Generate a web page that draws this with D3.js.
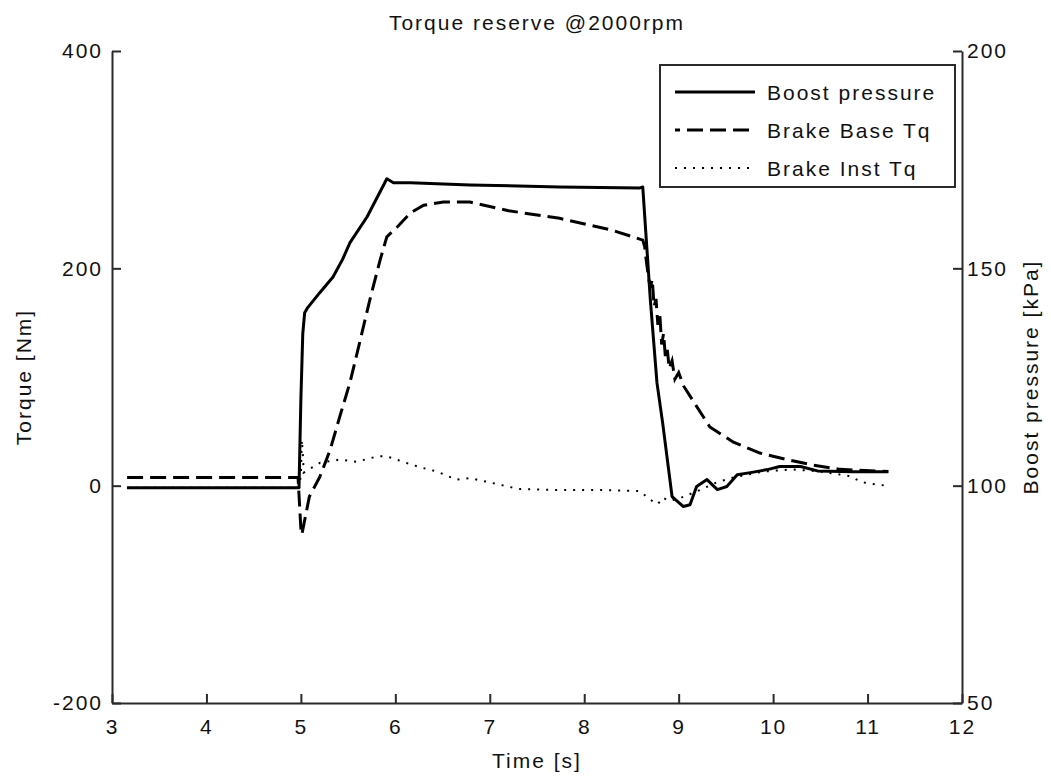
<!DOCTYPE html>
<html>
<head>
<meta charset="utf-8">
<script src="https://cdn.jsdelivr.net/npm/d3@7"></script>
<style>
  body { margin: 0; background: #fff; }
  svg { display: block; }
  text { font-family: "Liberation Sans", Arial, sans-serif; font-size: 21px; letter-spacing: 2px; fill: #111; }
</style>
</head>
<body>
<svg width="1051" height="776"></svg>
<script>
// Boost pressure [kPa] (right axis)
const boostTime = [3.16, 4.98, 5.00, 5.02, 5.04, 5.07, 5.20, 5.34, 5.44, 5.52, 5.70, 5.81, 5.91, 5.98, 6.16, 6.79, 7.74, 8.59, 8.62, 8.65, 8.70, 8.77, 8.83, 8.93, 9.05, 9.12, 9.19, 9.30, 9.41, 9.51, 9.62, 9.76, 9.94, 10.07, 10.29, 10.47, 10.85, 11.22];
const boostKpa = [99.5, 99.5, 120, 135, 139.8, 140.9, 144.4, 148.0, 152.0, 155.9, 161.8, 166.4, 170.6, 169.7, 169.7, 169.2, 168.7, 168.5, 168.7, 158.9, 142.8, 123.7, 114.5, 97.5, 95.2, 95.6, 99.8, 101.4, 99.1, 99.8, 102.5, 103.0, 103.7, 104.4, 104.4, 103.4, 103.2, 103.2];

// Brake Base Tq [Nm]
const baseTime = [3.16, 4.97, 5.00, 5.01, 5.09, 5.20, 5.31, 5.41, 5.52, 5.62, 5.73, 5.84, 5.91, 6.02, 6.16, 6.30, 6.51, 6.79, 7.20, 7.74, 8.30, 8.62, 8.64, 8.66, 8.68, 8.70, 8.72, 8.74, 8.76, 8.78, 8.80, 8.82, 8.84, 8.86, 8.88, 8.90, 8.93, 8.96, 9.00, 9.05, 9.19, 9.33, 9.58, 9.86, 10.15, 10.42, 10.71, 11.22];
const baseTq = [7.5, 7.5, -40, -45, -10, 8, 33, 63, 95, 131, 171, 208, 229, 238, 251, 258, 261, 261, 253, 246, 235, 226, 220, 205, 192, 182, 190, 165, 172, 148, 158, 130, 140, 118, 125, 108, 115, 98, 104, 92, 73, 54, 40, 30, 24, 19, 15, 13];

// Brake Inst Tq [Nm]
const instTime = [3.16, 4.98, 5.00, 5.01, 5.02, 5.03, 5.20, 5.41, 5.59, 5.81, 5.91, 6.08, 6.26, 6.44, 6.65, 6.79, 7.00, 7.30, 7.74, 8.20, 8.59, 8.70, 8.78, 8.83, 8.90, 9.00, 9.20, 9.40, 9.60, 9.90, 10.20, 10.50, 10.80, 10.95, 11.10, 11.20];
const instTq = [-2, -2, 10, 42, 30, 12, 21, 24, 22, 27, 27, 22, 17, 13, 5.5, 7, 3, -3, -4, -4, -5, -13, -17, -11, -14, -12, -5, 3, 8, 13, 15, 13, 9, 3, 1, 0];

const xTicks = [3, 4, 5, 6, 7, 8, 9, 10, 11, 12];
const yLeftTicks = [-200, 0, 200, 400];
const yRightTicks = [50, 100, 150, 200];
const legendNames = ["Boost pressure", "Brake Base Tq", "Brake Inst Tq"];

const svg = d3.select("svg");
const area = { left: 112, right: 962, top: 51, bottom: 703 };

const scX = d3.scaleLinear().domain([3, 12]).range([area.left, area.right]);
const scYL = d3.scaleLinear().domain([-200, 400]).range([area.bottom, area.top]);
const scYR = d3.scaleLinear().domain([50, 200]).range([area.bottom, area.top]);

function styleAxis(g) {
    g.selectAll("path, line").attr("stroke", "#2a2a2a").attr("stroke-width", 2);
    g.selectAll("text").attr("font-size", null).attr("font-family", null).attr("fill", "#111");
}

const fmt = d => String(d);

svg.append("g")
    .attr("transform", `translate(0, ${area.bottom})`)
    .call(d3.axisBottom(scX).tickValues(xTicks).tickFormat(fmt).tickSizeInner(-9).tickSizeOuter(0).tickPadding(16))
    .call(styleAxis);

svg.append("g")
    .attr("transform", `translate(${area.left}, 0)`)
    .call(d3.axisLeft(scYL).tickValues(yLeftTicks).tickFormat(fmt).tickSizeInner(-9).tickSizeOuter(0).tickPadding(9))
    .call(styleAxis);

svg.append("g")
    .attr("transform", `translate(${area.right}, 0)`)
    .call(d3.axisRight(scYR).tickValues(yRightTicks).tickFormat(fmt).tickSizeInner(-9).tickSizeOuter(0).tickPadding(5))
    .call(styleAxis);

// curves
const plot = svg.append("g");

const lineL = d3.line().x(d => scX(d[0])).y(d => scYL(d[1]));
const lineR = d3.line().x(d => scX(d[0])).y(d => scYR(d[1]));

plot.append("path")
    .datum(instTime.map((t, i) => [t, instTq[i]]))
    .attr("d", lineL)
    .attr("fill", "none").attr("stroke", "#000").attr("stroke-width", 2)
    .attr("stroke-dasharray", "2,7");

plot.append("path")
    .datum(baseTime.map((t, i) => [t, baseTq[i]]))
    .attr("d", lineL)
    .attr("fill", "none").attr("stroke", "#000").attr("stroke-width", 3)
    .attr("stroke-dasharray", "16,7");

plot.append("path")
    .datum(boostTime.map((t, i) => [t, boostKpa[i]]))
    .attr("d", lineR)
    .attr("fill", "none").attr("stroke", "#000").attr("stroke-width", 3)
    .attr("stroke-linejoin", "round");

// titles
svg.append("text")
    .attr("x", (area.left + area.right) / 2).attr("y", 30)
    .attr("text-anchor", "middle")
    .text("Torque reserve @2000rpm");

svg.append("text")
    .attr("x", (area.left + area.right) / 2).attr("y", 768)
    .attr("text-anchor", "middle")
    .text("Time [s]");

svg.append("text")
    .attr("transform", `translate(31, ${(area.top + area.bottom) / 2}) rotate(-90)`)
    .attr("text-anchor", "middle")
    .text("Torque [Nm]");

svg.append("text")
    .attr("transform", `translate(1038, ${(area.top + area.bottom) / 2}) rotate(-90)`)
    .attr("text-anchor", "middle")
    .text("Boost pressure [kPa]");

// legend
const legend = svg.append("g");
legend.append("rect")
    .attr("x", 660).attr("y", 65).attr("width", 295).attr("height", 122)
    .attr("fill", "#fff").attr("stroke", "#2a2a2a").attr("stroke-width", 2);

const legendStyles = [
    { dash: null, width: 3 },
    { dash: "16,7", width: 3 },
    { dash: "2,7", width: 2 }
];

legendNames.forEach((name, i) => {
    const y = 92 + i * 38;
    legend.append("line")
        .attr("x1", 675).attr("x2", 755).attr("y1", y).attr("y2", y)
        .attr("stroke", "#000").attr("stroke-width", legendStyles[i].width)
        .attr("stroke-dasharray", legendStyles[i].dash)
        .attr("stroke-dashoffset", i === 1 ? 11 : 0);
    legend.append("text")
        .attr("x", 767).attr("y", y).attr("dy", "0.36em")
        .text(name);
});
</script>
</body>
</html>
